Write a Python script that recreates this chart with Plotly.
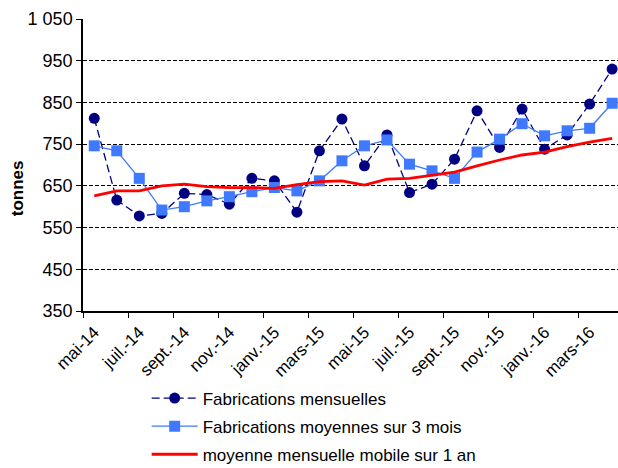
import plotly.graph_objects as go

months = ["mai-14", "juin-14", "juil.-14", "août-14", "sept.-14", "oct.-14", "nov.-14", "déc.-14",
          "janv.-15", "févr.-15", "mars-15", "avr.-15", "mai-15", "juin-15", "juil.-15", "août-15",
          "sept.-15", "oct.-15", "nov.-15", "déc.-15", "janv.-16", "févr.-16", "mars-16", "avr.-16"]

mensuelles = [812, 616, 578, 584, 632, 629, 606, 668, 662, 587, 734, 810,
              698, 772, 634, 654, 714, 830, 742, 834, 738, 772, 846, 930]

moy_3mois = [746, 734, 668, 592, 600, 614, 624, 636, 646, 638, 662, 710,
             746, 760, 702, 686, 668, 731, 762, 799, 770, 782, 788, 848]

mobile_1an = [626, 638, 638, 650, 654, 648, 646, 646, 644, 653, 660, 662,
              652, 666, 668, 676, 683, 698, 712, 724, 731, 744, 755, 764]

y_ticks = [350, 450, 550, 650, 750, 850, 950, 1050]
y_labels = ["350", "450", "550", "650", "750", "850", "950", "1 050"]

FONT = "Arial, 'Liberation Sans', sans-serif"

fig = go.Figure()
fig.add_trace(go.Scatter(
    x=months, y=mensuelles, name="Fabrications mensuelles", mode="lines+markers",
    line=dict(color="#000080", width=1.3, dash="8px,4px"),
    marker=dict(symbol="circle", size=11, color="#000080"),
    legendgroup="a",
))
fig.add_trace(go.Scatter(
    x=months, y=moy_3mois, name="Fabrications moyennes sur 3 mois", mode="lines+markers",
    line=dict(color="#3F79FF", width=1.3),
    marker=dict(symbol="square", size=11, color="#3F79FF"),
    legendgroup="b",
))
fig.add_trace(go.Scatter(
    x=months, y=mobile_1an, name="moyenne mensuelle mobile sur 1 an", mode="lines",
    line=dict(color="#FF0000", width=2.8),
    legendgroup="c",
))

fig.update_layout(
    width=618, height=468,
    margin=dict(l=83, r=0, t=19, b=157, autoexpand=False),
    paper_bgcolor="white", plot_bgcolor="white",
    font=dict(family=FONT, color="black", size=15),
    showlegend=True,
    legend=dict(x=0.119, y=-0.238, xanchor="left", yanchor="top",
                font=dict(size=17, family=FONT), tracegroupgap=3, itemwidth=46,
                bgcolor="rgba(0,0,0,0)"),
    annotations=[dict(text="<b>tonnes</b>", textangle=-90, showarrow=False,
                      xref="paper", yref="paper", x=-0.123, y=0.421,
                      xanchor="center", yanchor="middle",
                      font=dict(size=17, family=FONT, color="black"))],
)
fig.update_xaxes(
    type="category", range=[-0.5, 23.26], dtick=2, tickson="boundaries",
    ticks="outside", ticklen=5, tickcolor="black", tickwidth=1,
    showline=True, linecolor="black", linewidth=1.5, automargin=False,
    showgrid=False, tickangle=-45, tickfont=dict(size=17, family=FONT),
    ticklabelstandoff=3,
)
fig.update_yaxes(
    range=[350, 1050], tickvals=y_ticks, ticktext=y_labels,
    ticks="outside", ticklen=5, tickcolor="black", tickwidth=1,
    showline=True, linecolor="black", linewidth=1.5, automargin=False,
    showgrid=True, gridcolor="black", griddash="4px,2px", gridwidth=1,
    zeroline=False, tickfont=dict(size=18, family=FONT),
)

fig.write_html("out.html", config={"displayModeBar": False},
               post_script="document.body.style.margin='0';document.body.style.overflow='hidden';")
